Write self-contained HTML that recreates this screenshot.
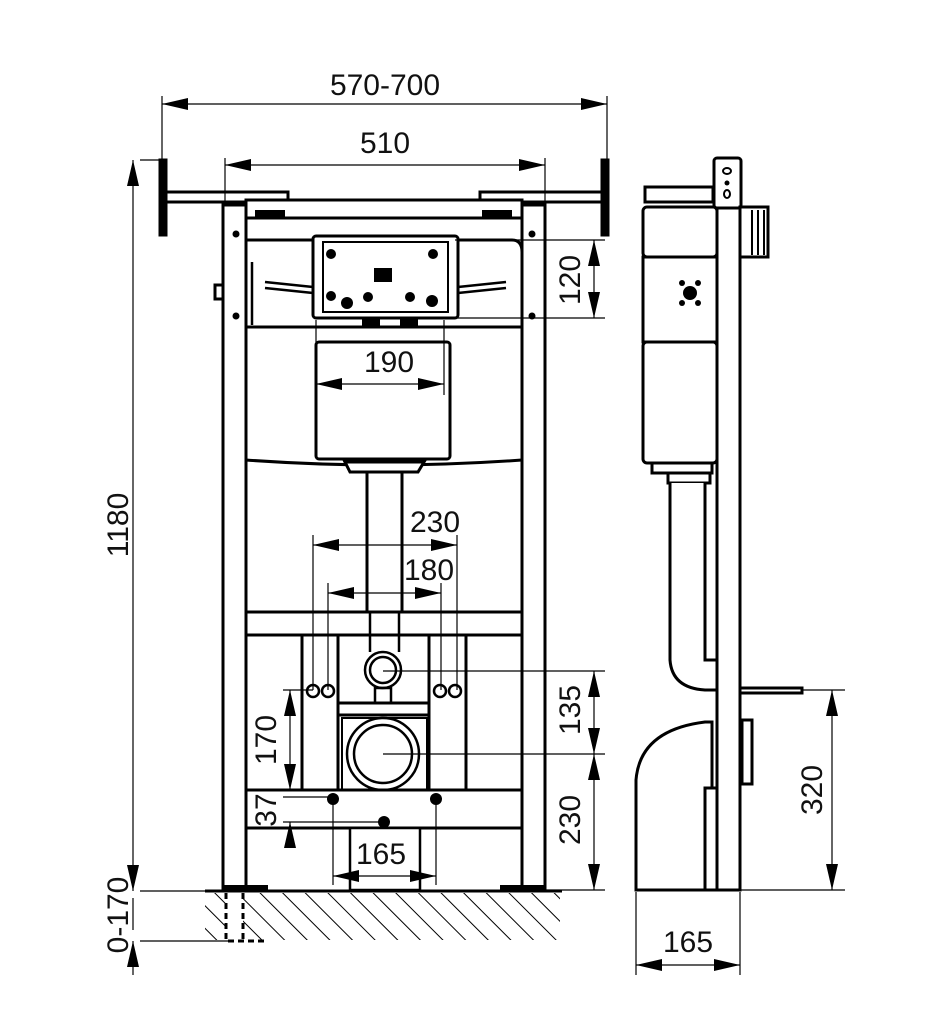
<!DOCTYPE html>
<html><head><meta charset="utf-8"><style>
html,body{margin:0;padding:0;background:#fff;}
svg{display:block}
text{font-family:"Liberation Sans",sans-serif;font-size:30px;fill:#111;}
</style></head><body>
<svg width="929" height="1024" viewBox="0 0 929 1024" xmlns="http://www.w3.org/2000/svg">
<defs>
<marker id="A" viewBox="0 0 26 12" refX="26" refY="6" markerWidth="26" markerHeight="12" markerUnits="userSpaceOnUse" orient="auto-start-reverse"><path d="M0,0 L26,6 L0,12 z" fill="#000"/></marker>
<pattern id="h" width="16" height="16" patternUnits="userSpaceOnUse" patternTransform="rotate(-45)"><line x1="0" y1="0" x2="0" y2="16" stroke="#000" stroke-width="2"/></pattern>
</defs>
<!-- FRONT VIEW -->
<g fill="#fff" stroke="#000" stroke-width="3">
<rect x="160" y="160" width="6" height="75" fill="#000"/>
<rect x="602" y="160" width="6" height="75" fill="#000"/>
<rect x="166" y="192" width="122" height="10"/>
<rect x="480" y="192" width="122" height="10"/>
<rect x="246" y="200" width="276" height="18"/>
<rect x="223" y="205" width="23" height="685"/>
<rect x="522" y="205" width="23" height="685"/>
<rect x="215" y="285" width="8" height="14"/>
<path d="M246,460 L246,240 Q250,240 255,240 L512,240 Q522,240 522,252 L522,460 Q384,470 246,460 Z"/>
<line x1="246" y1="327" x2="522" y2="327"/>
<rect x="316" y="342" width="134" height="117" rx="3"/>
<path d="M345,462 L424,462 L418,472 L350,472 Z"/>
<rect x="367" y="472" width="35" height="140"/>
<rect x="313" y="236" width="145" height="82" rx="3"/>
<rect x="323" y="242" width="125" height="70" stroke-width="2"/>
<rect x="246" y="612" width="276" height="23"/>
<rect x="302" y="635" width="36" height="155"/>
<rect x="429" y="635" width="37" height="155"/>
<rect x="338" y="703" width="91" height="12"/>
<rect x="342" y="718" width="85" height="72" stroke-width="2"/>
<rect x="246" y="790" width="276" height="38"/>
<rect x="350" y="828" width="70" height="62" stroke-width="2.5"/>
</g>
<g fill="none" stroke="#000" stroke-width="2.5">
<line x1="265" y1="288" x2="313" y2="293"/><line x1="265" y1="282" x2="313" y2="287"/>
<line x1="458" y1="293" x2="506" y2="288"/><line x1="458" y1="287" x2="506" y2="282"/>
<line x1="252" y1="262" x2="252" y2="325"/>
<circle cx="383" cy="670" r="18" fill="#fff"/><circle cx="383" cy="670" r="13"/>
<rect x="375" y="688" width="16" height="15"/>
<circle cx="383" cy="754" r="36"/><circle cx="383" cy="754" r="29"/>
<circle cx="313" cy="691" r="6"/><circle cx="328" cy="691" r="6"/>
<circle cx="440" cy="691" r="6"/><circle cx="455" cy="691" r="6"/>
<line x1="370" y1="612" x2="370" y2="652"/><line x1="399" y1="612" x2="399" y2="652"/>
</g>
<g fill="#000">
<circle cx="333" cy="799" r="6"/><circle cx="436" cy="799" r="6"/><circle cx="384" cy="822" r="6"/>
<circle cx="236" cy="234" r="3.5"/><circle cx="236" cy="316" r="3.5"/>
<circle cx="532" cy="234" r="3.5"/><circle cx="532" cy="316" r="3.5"/>
<circle cx="331" cy="254" r="5"/><circle cx="433" cy="254" r="5"/>
<circle cx="331" cy="296" r="5"/><circle cx="347" cy="303" r="6"/><circle cx="368" cy="297" r="5"/><circle cx="410" cy="297" r="5"/><circle cx="432" cy="301" r="6"/>
<rect x="374" y="268" width="18" height="14"/>
<rect x="362" y="318" width="18" height="8"/><rect x="400" y="318" width="18" height="8"/>
<rect x="255" y="210" width="30" height="8"/><rect x="482" y="210" width="30" height="8"/>
<rect x="223" y="885" width="45" height="6"/><rect x="500" y="885" width="45" height="6"/>
</g>
<!-- floor -->
<rect x="205" y="893" width="355" height="47" fill="url(#h)"/>
<line x1="205" y1="891" x2="562" y2="891" stroke="#000" stroke-width="3"/>
<rect x="226" y="893" width="17" height="48" fill="#fff"/>
<path d="M226,893 L226,941 L268,941 M243,893 L243,941" fill="none" stroke="#000" stroke-width="3" stroke-dasharray="6,4"/>
<!-- SIDE VIEW -->
<g fill="#fff" stroke="#000" stroke-width="3">
<rect x="717" y="205" width="23" height="685"/>
<rect x="714" y="158" width="27" height="50" rx="3"/>
<rect x="645" y="187" width="68" height="15"/>
<rect x="643" y="207" width="74" height="50" rx="4"/>
<rect x="643" y="257" width="74" height="85"/>
<rect x="643" y="342" width="74" height="121" rx="4"/>
<rect x="740" y="207" width="28" height="50"/>
<rect x="652" y="463" width="60" height="10"/>
<rect x="668" y="473" width="42" height="10"/>
<path d="M670,483 L670,660 Q672,688 705,690 L717,690 L717,660 L705,660 L705,483" />
<rect x="740" y="688" width="62" height="5"/>
<path d="M636,890 L636,780 Q640,730 705,722 L712,722 L712,890 Z"/>
<rect x="742" y="720" width="10" height="64"/>
<rect x="705" y="788" width="12" height="102"/>
</g>
<g fill="none" stroke="#000" stroke-width="2">
<line x1="752" y1="210" x2="752" y2="255"/><line x1="758" y1="210" x2="758" y2="255"/><line x1="764" y1="210" x2="764" y2="255"/>
<ellipse cx="727" cy="171" rx="4" ry="3"/><ellipse cx="727" cy="194" rx="3" ry="4"/>
</g>
<g fill="#000"><circle cx="727" cy="183" r="2.5"/><circle cx="690" cy="293" r="7"/>
<circle cx="682" cy="283" r="3"/><circle cx="698" cy="283" r="3"/><circle cx="682" cy="303" r="3"/><circle cx="698" cy="303" r="3"/></g>
<!-- dimensions on top -->
<g fill="none" stroke="#000" stroke-width="1.2">
<line x1="162" y1="96" x2="162" y2="160"/><line x1="607" y1="96" x2="607" y2="160"/>
<line x1="225" y1="158" x2="225" y2="205"/><line x1="545" y1="158" x2="545" y2="205"/>
<line x1="140" y1="160" x2="160" y2="160"/>
<line x1="140" y1="891" x2="225" y2="891"/><line x1="140" y1="941" x2="228" y2="941"/>
<line x1="455" y1="240" x2="605" y2="240"/><line x1="455" y1="318" x2="605" y2="318"/>
<line x1="316" y1="320" x2="316" y2="395"/><line x1="444" y1="320" x2="444" y2="395"/>
<line x1="313" y1="535" x2="313" y2="690"/><line x1="457" y1="535" x2="457" y2="690"/>
<line x1="328" y1="583" x2="328" y2="690"/><line x1="441" y1="583" x2="441" y2="690"/>
<line x1="383" y1="671" x2="605" y2="671"/><line x1="383" y1="754" x2="605" y2="754"/>
<line x1="545" y1="890" x2="605" y2="890"/>
<line x1="283" y1="690" x2="313" y2="690"/><line x1="283" y1="797" x2="332" y2="797"/><line x1="283" y1="822" x2="384" y2="822"/>
<line x1="333" y1="800" x2="333" y2="885"/><line x1="436" y1="800" x2="436" y2="885"/>
<line x1="802" y1="690" x2="845" y2="690"/><line x1="740" y1="890" x2="845" y2="890"/>
<line x1="636" y1="892" x2="636" y2="975"/><line x1="740" y1="892" x2="740" y2="975"/>
<line x1="162" y1="104" x2="607" y2="104" marker-start="url(#A)" marker-end="url(#A)"/>
<line x1="225" y1="165" x2="545" y2="165" marker-start="url(#A)" marker-end="url(#A)"/>
<line x1="133" y1="160" x2="133" y2="891" marker-start="url(#A)" marker-end="url(#A)"/>
<line x1="133" y1="898" x2="133" y2="930"/>
<line x1="133" y1="975" x2="133" y2="941" marker-end="url(#A)"/>
<line x1="594" y1="240" x2="594" y2="318" marker-start="url(#A)" marker-end="url(#A)"/>
<line x1="316" y1="384" x2="444" y2="384" marker-start="url(#A)" marker-end="url(#A)"/>
<line x1="313" y1="545" x2="457" y2="545" marker-start="url(#A)" marker-end="url(#A)"/>
<line x1="328" y1="593" x2="441" y2="593" marker-start="url(#A)" marker-end="url(#A)"/>
<line x1="594" y1="671" x2="594" y2="754" marker-start="url(#A)" marker-end="url(#A)"/>
<line x1="594" y1="754" x2="594" y2="890" marker-start="url(#A)" marker-end="url(#A)"/>
<line x1="290" y1="690" x2="290" y2="790" marker-start="url(#A)" marker-end="url(#A)"/>
<line x1="290" y1="848" x2="290" y2="822" marker-end="url(#A)"/>
<line x1="333" y1="876" x2="436" y2="876" marker-start="url(#A)" marker-end="url(#A)"/>
<line x1="832" y1="690" x2="832" y2="890" marker-start="url(#A)" marker-end="url(#A)"/>
<line x1="636" y1="965" x2="740" y2="965" marker-start="url(#A)" marker-end="url(#A)"/>
</g>
<!-- texts -->
<text x="385" y="95" text-anchor="middle">570-700</text>
<text x="385" y="153" text-anchor="middle">510</text>
<text x="389" y="372" text-anchor="middle">190</text>
<text x="435" y="532" text-anchor="middle">230</text>
<text x="429" y="580" text-anchor="middle">180</text>
<text x="381" y="864" text-anchor="middle">165</text>
<text x="688" y="952" text-anchor="middle">165</text>
<text transform="translate(128,525) rotate(-90)" text-anchor="middle">1180</text>
<text transform="translate(128,915) rotate(-90)" text-anchor="middle">0-170</text>
<text transform="translate(580,280) rotate(-90)" text-anchor="middle">120</text>
<text transform="translate(580,710) rotate(-90)" text-anchor="middle">135</text>
<text transform="translate(580,820) rotate(-90)" text-anchor="middle">230</text>
<text transform="translate(276,740) rotate(-90)" text-anchor="middle">170</text>
<text transform="translate(276,810) rotate(-90)" text-anchor="middle">37</text>
<text transform="translate(822,790) rotate(-90)" text-anchor="middle">320</text>
</svg>
</body></html>
